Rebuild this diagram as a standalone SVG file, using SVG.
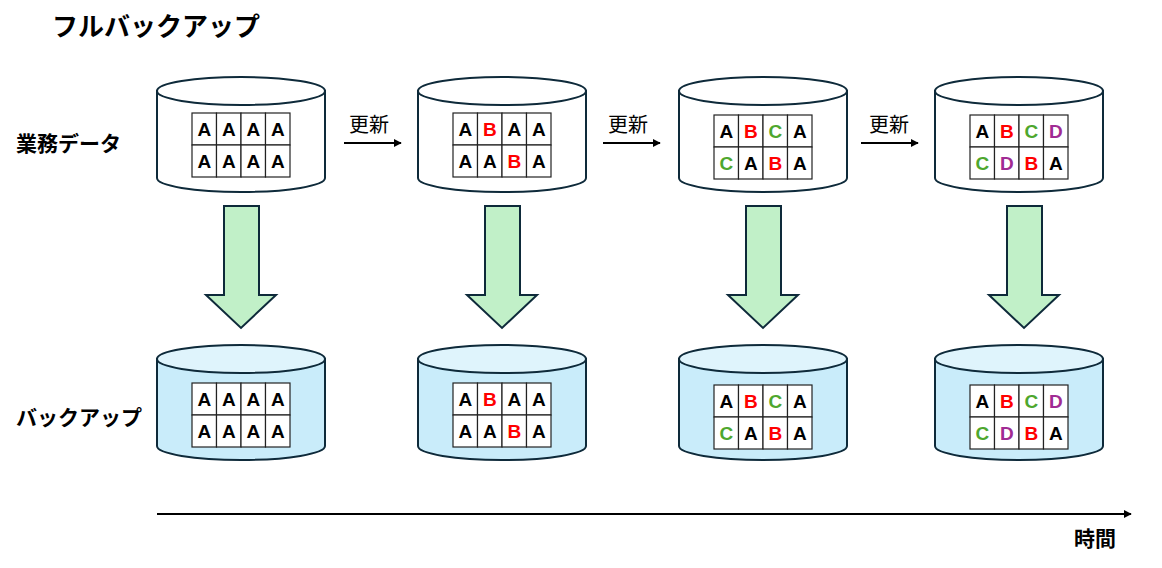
<svg xmlns="http://www.w3.org/2000/svg" width="1162" height="568" viewBox="0 0 1162 568">
<style>
.cyl{stroke:#0e2a3a;stroke-width:2}
.work{--body:#ffffff;--top:#ffffff}
.bk{--body:#c9ecfa;--top:#dff4fc}
.body{fill:var(--body)}
.top{fill:var(--top)}
.cell{fill:#ffffff;stroke:#222;stroke-width:1.2}
.L{font-family:"Liberation Sans",Arial,sans-serif;font-weight:bold;font-size:19px;text-anchor:middle}
.a{fill:#000}.b{fill:#ff0000}.c{fill:#4ea72e}.d{fill:#a02b93}
.jp{font-family:"Noto Sans CJK JP","Noto Sans",sans-serif;fill:#000}
.ttl{font-size:26px;font-weight:bold}
.row{font-size:21px;font-weight:bold}
.upd{font-size:20px}
.big{fill:#c1f0c8;stroke:#0e2a3a;stroke-width:2}
.ln{stroke:#000;stroke-width:2;fill:none}
</style>
<defs>
<marker id="ah" viewBox="0 0 10 10" refX="9" refY="5" markerWidth="4" markerHeight="4" orient="auto"><path d="M0,0 L10,5 L0,10 z" fill="#000"/></marker>
<g id="cylshape">
<path class="cyl body" d="M0,14 L0,101 A84,14 0 0 0 168,101 L168,14 Z"/>
<ellipse class="cyl top" cx="84" cy="14" rx="84" ry="14"/>
</g>
<g id="grid">
<rect class="cell" x="0" y="0" width="24.5" height="32"/>
<rect class="cell" x="24.5" y="0" width="24.5" height="32"/>
<rect class="cell" x="49" y="0" width="24.5" height="32"/>
<rect class="cell" x="73.5" y="0" width="24.5" height="32"/>
<rect class="cell" x="0" y="32" width="24.5" height="32"/>
<rect class="cell" x="24.5" y="32" width="24.5" height="32"/>
<rect class="cell" x="49" y="32" width="24.5" height="32"/>
<rect class="cell" x="73.5" y="32" width="24.5" height="32"/>
</g>
</defs>

<text class="jp ttl" x="52" y="36">フルバックアップ</text>
<text class="jp row" x="16" y="151">業務データ</text>
<text class="jp row" x="16" y="425">バックアップ</text>
<text class="jp row" x="1074" y="546">時間</text>

<g id="connectors">
<line class="ln" x1="344" y1="143" x2="401" y2="143" marker-end="url(#ah)"/>
<line class="ln" x1="603" y1="143" x2="660" y2="143" marker-end="url(#ah)"/>
<line class="ln" x1="861" y1="143" x2="918" y2="143" marker-end="url(#ah)"/>
<text class="jp upd" x="369" y="132" text-anchor="middle">更新</text>
<text class="jp upd" x="628" y="132" text-anchor="middle">更新</text>
<text class="jp upd" x="889" y="132" text-anchor="middle">更新</text>
<path class="big" d="M224,206 L259,206 L259,295 L276,295 L241,328 L206,295 L224,295 Z"/>
<path class="big" d="M485,206 L520,206 L520,295 L537,295 L502,328 L467,295 L485,295 Z"/>
<path class="big" d="M746,206 L781,206 L781,295 L798,295 L763,328 L728,295 L746,295 Z"/>
<path class="big" d="M1007,206 L1042,206 L1042,295 L1059,295 L1024,328 L989,295 L1007,295 Z"/>
<line class="ln" x1="157" y1="514" x2="1131" y2="514" marker-end="url(#ah)"/>
</g>

<g id="work1" class="work">
<use href="#cylshape" x="157" y="77"/>
<use href="#grid" x="192" y="113"/>
<g class="L"><text class="a" x="204.25" y="136">A</text><text class="a" x="228.75" y="136">A</text><text class="a" x="253.25" y="136">A</text><text class="a" x="277.75" y="136">A</text>
<text class="a" x="204.25" y="168">A</text><text class="a" x="228.75" y="168">A</text><text class="a" x="253.25" y="168">A</text><text class="a" x="277.75" y="168">A</text></g>
</g>
<g id="work2" class="work">
<use href="#cylshape" x="418" y="77"/>
<use href="#grid" x="453" y="113"/>
<g class="L"><text class="a" x="465.25" y="136">A</text><text class="b" x="489.75" y="136">B</text><text class="a" x="514.25" y="136">A</text><text class="a" x="538.75" y="136">A</text>
<text class="a" x="465.25" y="168">A</text><text class="a" x="489.75" y="168">A</text><text class="b" x="514.25" y="168">B</text><text class="a" x="538.75" y="168">A</text></g>
</g>
<g id="work3" class="work">
<use href="#cylshape" x="679" y="77"/>
<use href="#grid" x="714" y="115"/>
<g class="L"><text class="a" x="726.25" y="138">A</text><text class="b" x="750.75" y="138">B</text><text class="c" x="775.25" y="138">C</text><text class="a" x="799.75" y="138">A</text>
<text class="c" x="726.25" y="170">C</text><text class="a" x="750.75" y="170">A</text><text class="b" x="775.25" y="170">B</text><text class="a" x="799.75" y="170">A</text></g>
</g>
<g id="work4" class="work">
<use href="#cylshape" x="935" y="77"/>
<use href="#grid" x="970" y="115"/>
<g class="L"><text class="a" x="982.25" y="138">A</text><text class="b" x="1006.75" y="138">B</text><text class="c" x="1031.25" y="138">C</text><text class="d" x="1055.75" y="138">D</text>
<text class="c" x="982.25" y="170">C</text><text class="d" x="1006.75" y="170">D</text><text class="b" x="1031.25" y="170">B</text><text class="a" x="1055.75" y="170">A</text></g>
</g>

<g id="backup1" class="bk">
<use href="#cylshape" x="157" y="345"/>
<use href="#grid" x="192" y="383"/>
<g class="L"><text class="a" x="204.25" y="406">A</text><text class="a" x="228.75" y="406">A</text><text class="a" x="253.25" y="406">A</text><text class="a" x="277.75" y="406">A</text>
<text class="a" x="204.25" y="438">A</text><text class="a" x="228.75" y="438">A</text><text class="a" x="253.25" y="438">A</text><text class="a" x="277.75" y="438">A</text></g>
</g>
<g id="backup2" class="bk">
<use href="#cylshape" x="418" y="345"/>
<use href="#grid" x="453" y="383"/>
<g class="L"><text class="a" x="465.25" y="406">A</text><text class="b" x="489.75" y="406">B</text><text class="a" x="514.25" y="406">A</text><text class="a" x="538.75" y="406">A</text>
<text class="a" x="465.25" y="438">A</text><text class="a" x="489.75" y="438">A</text><text class="b" x="514.25" y="438">B</text><text class="a" x="538.75" y="438">A</text></g>
</g>
<g id="backup3" class="bk">
<use href="#cylshape" x="679" y="345"/>
<use href="#grid" x="714" y="385"/>
<g class="L"><text class="a" x="726.25" y="408">A</text><text class="b" x="750.75" y="408">B</text><text class="c" x="775.25" y="408">C</text><text class="a" x="799.75" y="408">A</text>
<text class="c" x="726.25" y="440">C</text><text class="a" x="750.75" y="440">A</text><text class="b" x="775.25" y="440">B</text><text class="a" x="799.75" y="440">A</text></g>
</g>
<g id="backup4" class="bk">
<use href="#cylshape" x="935" y="345"/>
<use href="#grid" x="970" y="385"/>
<g class="L"><text class="a" x="982.25" y="408">A</text><text class="b" x="1006.75" y="408">B</text><text class="c" x="1031.25" y="408">C</text><text class="d" x="1055.75" y="408">D</text>
<text class="c" x="982.25" y="440">C</text><text class="d" x="1006.75" y="440">D</text><text class="b" x="1031.25" y="440">B</text><text class="a" x="1055.75" y="440">A</text></g>
</g>
</svg>
